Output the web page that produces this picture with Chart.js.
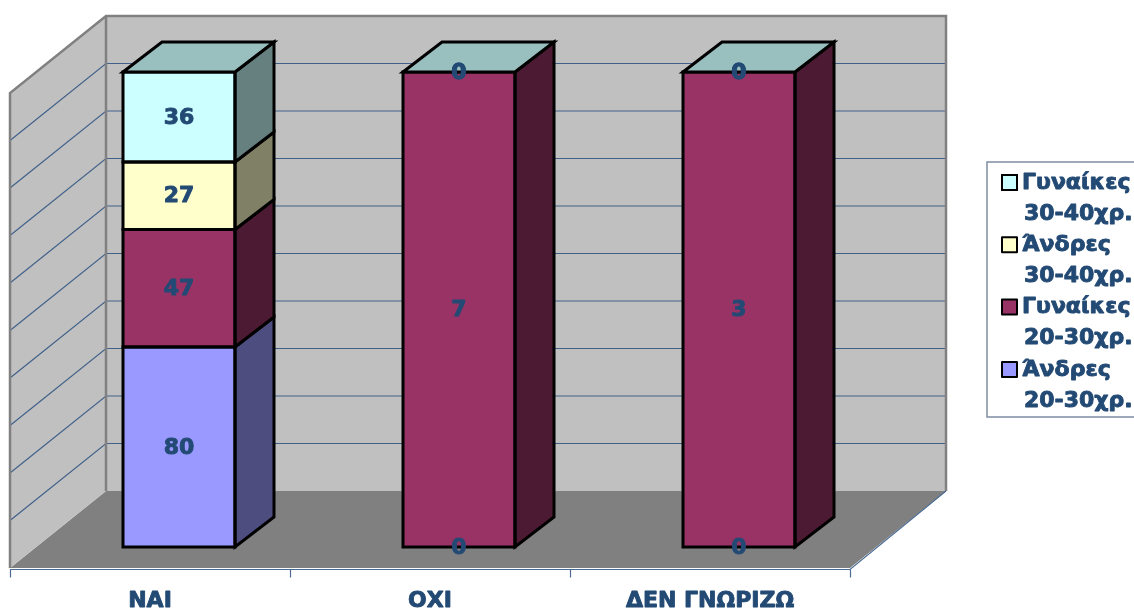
<!DOCTYPE html>
<html>
<head>
<meta charset="utf-8">
<script src="https://cdn.jsdelivr.net/npm/chart.js@4.4.1/dist/chart.umd.min.js"></script>
<style>
  html, body { margin: 0; padding: 0; background: #fff; }
</style>
</head>
<body>
<canvas id="chart" width="1134" height="613"></canvas>
<script>
// answers per group
const categories = ['ΝΑΙ', 'ΟΧΙ', 'ΔΕΝ ΓΝΩΡΙΖΩ'];
const seriesNames = ['Άνδρες 20-30χρ.', 'Γυναίκες 20-30χρ.', 'Άνδρες 30-40χρ.', 'Γυναίκες 30-40χρ.'];
const men2030 = [80, 0, 0];
const women2030 = [47, 7, 3];
const men3040 = [27, 0, 0];
const women3040 = [36, 0, 0];
const percentTicks = [0, 10, 20, 30, 40, 50, 60, 70, 80, 90, 100];

const seriesValues = [men2030, women2030, men3040, women3040];
const seriesColors = ['#9999FF', '#993366', '#FFFFCC', '#CCFFFF'];

// fake 3D offsets, relative to the bars' front faces
const FRONT = { x: -29, y: 21 };     // front edge of the floor
const BACK = { x: 67, y: -56 };      // back wall
const DEPTH = { x: 39, y: -30 };     // depth of each column
const TEXT = '#234a74';
const FONT = 'bold 22px "DejaVu Sans", Verdana, sans-serif';

const totals = categories.map((_, i) => seriesValues.reduce((s, arr) => s + arr[i], 0));
const percent = arr => arr.map((v, i) => totals[i] ? v / totals[i] * 100 : 0);

function shade(hex, f) {
  const n = parseInt(hex.slice(1), 16);
  const r = Math.round(((n >> 16) & 255) * f);
  const g = Math.round(((n >> 8) & 255) * f);
  const b = Math.round((n & 255) * f);
  return `rgb(${r},${g},${b})`;
}

function poly(ctx, pts, fill, stroke, lw) {
  ctx.beginPath();
  pts.forEach((p, k) => k ? ctx.lineTo(p[0], p[1]) : ctx.moveTo(p[0], p[1]));
  ctx.closePath();
  if (fill) { ctx.fillStyle = fill; ctx.fill(); }
  if (stroke) { ctx.strokeStyle = stroke; ctx.lineWidth = lw; ctx.lineJoin = 'miter'; ctx.stroke(); }
}

function line(ctx, pts, color, lw) {
  ctx.beginPath();
  pts.forEach((p, k) => k ? ctx.lineTo(p[0], p[1]) : ctx.moveTo(p[0], p[1]));
  ctx.strokeStyle = color;
  ctx.lineWidth = lw;
  ctx.stroke();
}

// heavier text: fill plus a thin stroke of the same colour
function heavyText(ctx, str, tx, ty) {
  ctx.fillText(str, tx, ty);
  ctx.strokeText(str, tx, ty);
}

function textStyle(ctx, align) {
  ctx.font = FONT;
  ctx.fillStyle = TEXT;
  ctx.strokeStyle = TEXT;
  ctx.lineWidth = 0.9;
  ctx.lineJoin = 'round';
  ctx.textAlign = align;
  ctx.textBaseline = 'middle';
}

const walls = {
  id: 'walls',
  beforeDatasetsDraw(chart) {
    const { ctx, chartArea: a, scales: { x, y } } = chart;
    const yTop = y.getPixelForValue(100), yBot = y.getPixelForValue(0);
    const L = a.left, R = a.right;
    ctx.save();

    // floor
    poly(ctx, [[L + FRONT.x, yBot + FRONT.y], [R + FRONT.x, yBot + FRONT.y],
               [R + BACK.x, yBot + BACK.y], [L + BACK.x, yBot + BACK.y]], '#808080');
    // back wall and left wall
    poly(ctx, [[L + BACK.x, yTop + BACK.y], [R + BACK.x, yTop + BACK.y],
               [R + BACK.x, yBot + BACK.y], [L + BACK.x, yBot + BACK.y]], '#C0C0C0');
    poly(ctx, [[L + FRONT.x, yTop + FRONT.y], [L + BACK.x, yTop + BACK.y],
               [L + BACK.x, yBot + BACK.y], [L + FRONT.x, yBot + FRONT.y]], '#C0C0C0');

    // gridlines across both walls
    percentTicks.filter(v => v > 0 && v < 100).forEach(v => {
      const py = y.getPixelForValue(v);
      line(ctx, [[L + FRONT.x, py + FRONT.y], [L + BACK.x, py + BACK.y], [R + BACK.x, py + BACK.y]], '#41618a', 1.2);
    });

    // wall edges
    line(ctx, [[L + FRONT.x, yBot + FRONT.y], [L + FRONT.x, yTop + FRONT.y], [L + BACK.x, yTop + BACK.y],
               [R + BACK.x, yTop + BACK.y], [R + BACK.x, yBot + BACK.y]], '#808080', 2.5);
    line(ctx, [[L + BACK.x, yTop + BACK.y], [L + BACK.x, yBot + BACK.y]], '#808080', 2.5);

    // category axis along the floor front
    const ay = yBot + FRONT.y + 1.5;
    line(ctx, [[L + FRONT.x, ay], [R + FRONT.x, ay], [R + BACK.x, yBot + BACK.y]], '#4a6a92', 1.2);
    const bounds = [L];
    for (let i = 1; i < categories.length; i++) bounds.push((x.getPixelForValue(i - 1) + x.getPixelForValue(i)) / 2);
    bounds.push(R);
    bounds.forEach(bx => line(ctx, [[bx + FRONT.x + 0.5, ay], [bx + FRONT.x + 0.5, ay + 8]], '#4a6a92', 1.2));

    textStyle(ctx, 'center');
    categories.forEach((c, i) => heavyText(ctx, c, x.getPixelForValue(i) + FRONT.x, yBot + FRONT.y + 33));
    ctx.restore();
  },

  afterDatasetsDraw(chart) {
    const { ctx, scales: { y } } = chart;
    const metas = chart.data.datasets.map((_, j) => chart.getDatasetMeta(j));
    const yTop = y.getPixelForValue(100);
    ctx.save();

    categories.forEach((_, i) => {
      let bx = 0, bw = 0;
      metas.forEach((m, j) => {
        const el = m.data[i].getProps(['x', 'y', 'base', 'width'], true);
        bx = el.x; bw = el.width;
        const top = Math.min(el.y, el.base), bot = Math.max(el.y, el.base);
        if (bot - top < 0.5) return;
        const l = el.x - el.width / 2, r = el.x + el.width / 2;
        // side face
        poly(ctx, [[r, top], [r + DEPTH.x, top + DEPTH.y], [r + DEPTH.x, bot + DEPTH.y], [r, bot]],
             shade(seriesColors[j], 0.5), '#000', 3);
        // front outline
        ctx.strokeStyle = '#000';
        ctx.lineWidth = 3;
        ctx.strokeRect(l, top, r - l, bot - top);
      });
      // lid takes the colour of the topmost series
      const l = bx - bw / 2, r = bx + bw / 2;
      poly(ctx, [[l, yTop], [l + DEPTH.x, yTop + DEPTH.y], [r + DEPTH.x, yTop + DEPTH.y], [r, yTop]],
           shade(seriesColors[seriesColors.length - 1], 0.75), '#000', 3);
    });

    // value labels
    textStyle(ctx, 'center');
    metas.forEach((m, j) => {
      m.data.forEach((el, i) => {
        const p = el.getProps(['x', 'y', 'base'], true);
        heavyText(ctx, String(seriesValues[j][i]), p.x, (p.y + p.base) / 2 + 1);
      });
    });
    ctx.restore();
  },

  afterDraw(chart) {
    const ctx = chart.ctx;
    ctx.save();
    ctx.fillStyle = '#fff';
    ctx.fillRect(987, 162, 150, 255);
    ctx.strokeStyle = '#7d8da3';
    ctx.lineWidth = 1.5;
    ctx.strokeRect(987, 162, 150, 255);
    // legend lists the top of the stack first
    for (let k = 0; k < seriesNames.length; k++) {
      const j = seriesNames.length - 1 - k;
      const cy = 183 + k * 62.3;
      ctx.fillStyle = seriesColors[j];
      ctx.fillRect(1002, cy - 8, 15, 15);
      ctx.strokeStyle = '#000';
      ctx.lineWidth = 2;
      ctx.strokeRect(1002, cy - 8, 15, 15);
      const [w1, w2] = seriesNames[j].split(' ');
      textStyle(ctx, 'left');
      heavyText(ctx, w1, 1022, cy);
      heavyText(ctx, w2, 1024, cy + 31);
    }
    ctx.restore();
  }
};

new Chart(document.getElementById('chart'), {
  type: 'bar',
  data: {
    labels: categories,
    datasets: seriesNames.map((name, j) => ({
      label: name,
      data: percent(seriesValues[j]),
      backgroundColor: seriesColors[j],
      borderWidth: 0,
      barPercentage: 0.4,
      categoryPercentage: 1
    }))
  },
  options: {
    responsive: false,
    animation: false,
    devicePixelRatio: 1,
    layout: { padding: { left: 39, top: 72, right: 255, bottom: 66 } },
    scales: {
      x: { stacked: true, display: false },
      y: { stacked: true, display: false, min: 0, max: 100, ticks: { stepSize: 10 } }
    },
    plugins: {
      legend: { display: false },
      tooltip: { enabled: false }
    }
  },
  plugins: [walls]
});
</script>
</body>
</html>
